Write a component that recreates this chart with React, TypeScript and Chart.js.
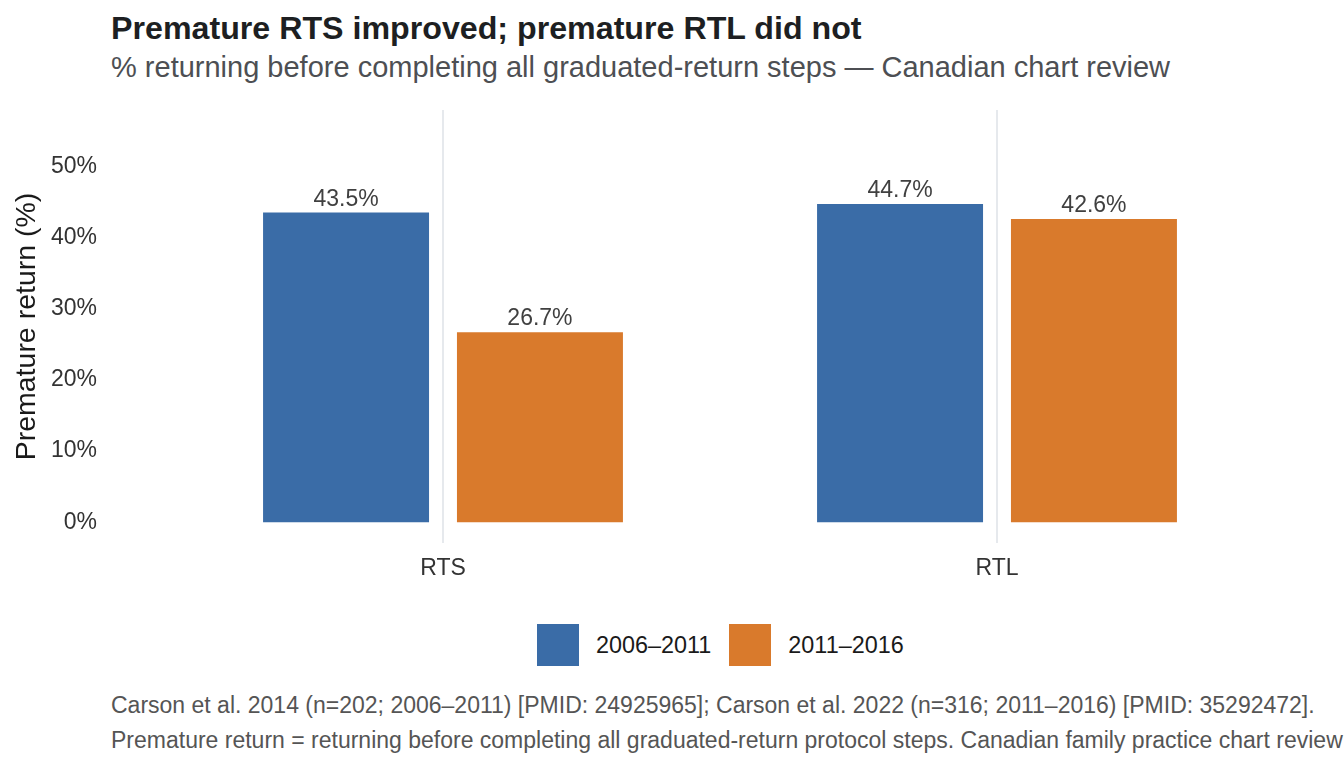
import { useEffect, useRef } from "react";
import { Chart, registerables } from "chart.js";

Chart.register(...registerables);

const FONT = '"Liberation Sans", Arial, Helvetica, sans-serif';

const categories = ["RTS", "RTL"];
const periods = ["2006–2011", "2011–2016"];
const values2006 = [43.5, 44.7];
const values2011 = [26.7, 42.6];
const periodColors = ["#3A6CA7", "#D97A2C"];
const yTicks = [0, 10, 20, 30, 40, 50];

const captionLines = [
  "Carson et al. 2014 (n=202; 2006–2011) [PMID: 24925965]; Carson et al. 2022 (n=316; 2011–2016) [PMID: 35292472].",
  "Premature return = returning before completing all graduated-return protocol steps. Canadian family practice chart review; percentages as reported.",
];

const valueLabels = {
  id: "valueLabels",
  afterDatasetsDraw(chart: any) {
    const ctx = chart.ctx;
    ctx.save();
    ctx.font = `23px ${FONT}`;
    ctx.fillStyle = "#404040";
    ctx.textAlign = "center";
    ctx.textBaseline = "alphabetic";
    chart.data.datasets.forEach((ds: any, i: number) => {
      const meta = chart.getDatasetMeta(i);
      meta.data.forEach((el: any, j: number) => {
        ctx.fillText(`${ds.data[j].toFixed(1)}%`, el.x, el.y - 7);
      });
    });
    ctx.restore();
  },
};

function BarChart() {
  const canvasRef = useRef<HTMLCanvasElement | null>(null);

  useEffect(() => {
    if (!canvasRef.current) return;
    const ctx = canvasRef.current.getContext("2d");
    if (!ctx) return;

    const chart = new Chart(ctx, {
      type: "bar",
      data: {
        labels: categories,
        datasets: [
          {
            label: periods[0],
            data: values2006,
            backgroundColor: periodColors[0],
            categoryPercentage: 0.7,
            barPercentage: 0.856,
          },
          {
            label: periods[1],
            data: values2011,
            backgroundColor: periodColors[1],
            categoryPercentage: 0.7,
            barPercentage: 0.856,
          },
        ],
      },
      options: {
        animation: false,
        responsive: false,
        maintainAspectRatio: false,
        layout: { padding: { top: 10, right: 70, left: 0, bottom: 0 } },
        plugins: {
          legend: { display: false },
          tooltip: { enabled: false },
        },
        scales: {
          x: {
            offset: true,
            border: { display: false },
            grid: {
              display: true,
              offset: false,
              drawTicks: false,
              color: "#E6E9ED",
              lineWidth: 2,
            },
            ticks: {
              color: "#333333",
              font: { family: FONT, size: 23 },
              padding: 12,
            },
            afterFit: (scale: any) => {
              scale.height = 57;
              scale.paddingLeft = 0;
              scale.paddingRight = 0;
            },
          },
          y: {
            min: -2.9,
            max: 57.9,
            border: { display: false },
            grid: { display: false, drawTicks: false },
            afterBuildTicks: (scale: any) => {
              scale.ticks = yTicks.map((v) => ({ value: v }));
            },
            ticks: {
              color: "#333333",
              font: { family: FONT, size: 23 },
              padding: 69,
              callback: (v: any) => `${v}%`,
            },
            title: {
              display: true,
              text: "Premature return (%)",
              color: "#1a1a1a",
              font: { family: FONT, size: 28.5 },
              padding: { top: 10, bottom: 0 },
            },
            afterFit: (scale: any) => {
              scale.width = 166;
              scale.paddingTop = 0;
              scale.paddingBottom = 0;
            },
          },
        },
      },
      plugins: [valueLabels],
    });

    return () => {
      chart.destroy();
    };
  }, []);

  return (
    <canvas
      ref={canvasRef}
      width={1344}
      height={500}
      style={{ position: "absolute", left: 0, top: 100, width: 1344, height: 500 }}
    />
  );
}

export default function App() {
  return (
    <div
      style={{
        position: "absolute",
        left: 0,
        top: 0,
        width: 1344,
        height: 768,
        overflow: "hidden",
        background: "#ffffff",
        fontFamily: FONT,
      }}
    >
      <div
        style={{
          position: "absolute",
          left: 111,
          top: 12,
          fontSize: 32.2,
          lineHeight: "32.2px",
          fontWeight: "bold",
          color: "#1d1f22",
          whiteSpace: "nowrap",
        }}
      >
        Premature RTS improved; premature RTL did not
      </div>
      <div
        style={{
          position: "absolute",
          left: 111,
          top: 52.5,
          fontSize: 29,
          lineHeight: "29px",
          color: "#4d4f53",
          whiteSpace: "nowrap",
        }}
      >
        % returning before completing all graduated-return steps — Canadian chart review
      </div>

      <BarChart />

      <div
        style={{
          position: "absolute",
          left: 537,
          top: 624,
          height: 42,
          display: "flex",
          alignItems: "center",
        }}
      >
        {periods.map((p, i) => (
          <div key={p} style={{ display: "flex", alignItems: "center", marginRight: 18 }}>
            <div style={{ width: 42, height: 42, background: periodColors[i] }} />
            <span style={{ marginLeft: 17, fontSize: 23.4, color: "#1a1a1a", whiteSpace: "nowrap" }}>{p}</span>
          </div>
        ))}
      </div>

      {captionLines.map((line, i) => (
        <div
          key={i}
          style={{
            position: "absolute",
            left: 111,
            top: 693.8 + i * 35,
            fontSize: 23,
            lineHeight: "23px",
            color: "#555555",
            whiteSpace: "nowrap",
          }}
        >
          {line}
        </div>
      ))}
    </div>
  );
}
